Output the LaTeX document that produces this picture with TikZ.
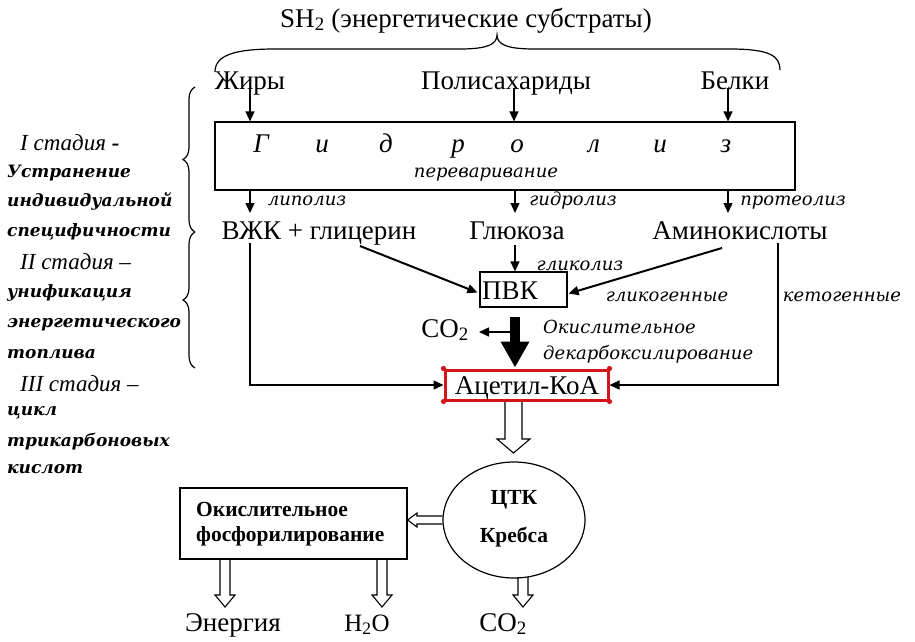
\documentclass[tikz,border=0pt]{standalone}
\usepackage{fontspec}
\setmainfont{Liberation Serif}
\newfontfamily\labfont{DejaVu Serif}
\usetikzlibrary{arrows.meta,decorations.pathreplacing,shapes.geometric,calc}
\newcommand\hollowv[6]{\draw[hollow] ({#1-#4},#2) -- ({#1-#4},{#3-#6}) -- ({#1-#5},{#3-#6}) -- (#1,#3) -- ({#1+#5},{#3-#6}) -- ({#1+#4},{#3-#6}) -- ({#1+#4},#2);}
\begin{document}
\begin{tikzpicture}[x=1pt,y=-1pt,
  main/.style={font=\fontsize{27}{31}\selectfont, inner sep=0pt, anchor=base},
  lab/.style={font=\labfont\itshape\fontsize{18}{22}\selectfont, inner sep=0pt, anchor=base},
  hl/.style={font=\itshape\fontsize{27}{31}\selectfont, inner sep=0pt, anchor=base},
  stg/.style={font=\labfont\bfseries\itshape\fontsize{17}{20}\selectfont, anchor=west, inner sep=0pt},
  stgn/.style={font=\itshape\fontsize{23}{26}\selectfont, anchor=west, inner sep=0pt},
  bld/.style={font=\bfseries\fontsize{21.5}{25}\selectfont, inner sep=0pt, anchor=base},
  arr/.style={-{Triangle[length=10pt,width=9pt]}, line width=1.3pt},
  thin/.style={line width=1.2pt},
  hollow/.style={line width=1.1pt},
  box/.style={draw, line width=1.2pt, inner sep=0pt}]
\useasboundingbox (0,0) rectangle (915,641);

% title and brace
\node[main] (sh) at (466,27) {SH\textsubscript{2} (энергетические субстраты)};
\draw[thin] (215,72) .. controls (215,55) and (235,49) .. (275,49) -- (460,49) .. controls (488,49) and (497,44) .. (497,35) .. controls (497,44) and (506,49) .. (534,49) -- (730,49) .. controls (770,49) and (780,56) .. (780,70);

% substrates
\node[main] (fat) at (250,89) {Жиры};
\node[main] (poly) at (506,89) {Полисахариды};
\node[main] (prot) at (735,89) {Белки};

% hydrolysis box
\node[box, minimum width=580pt, minimum height=68pt] (hyd) at (505,156) {};
\foreach \x/\t in {261/Г,322/и,386/д,458/р,517/о,594/л,660/и,726/з}
  \node[hl] at (\x,152) {\t};
\node[lab] (dig) at (486,177) {переваривание};

\coordinate (f0) at (250,88);
\coordinate (p0) at (514,88);
\coordinate (b0) at (728,88);
\draw[arr] (f0) -- (f0 |- hyd.north);
\draw[arr] (p0) -- (p0 |- hyd.north);
\draw[arr] (b0) -- (b0 |- hyd.north);

% second row
\node[main] (vzk) at (319,239) {ВЖК + глицерин};
\node[main] (glu) at (517,239) {Глюкоза};
\node[main] (ami) at (740,239) {Аминокислоты};
\coordinate (a1) at (250,213);
\coordinate (a2) at (515,213);
\coordinate (a3) at (728,213);
\draw[arr] (hyd.south -| a1) -- (a1);
\draw[arr] (hyd.south -| a2) -- (a2);
\draw[arr] (hyd.south -| a3) -- (a3);
\node[lab] at (307,205) {липолиз};
\node[lab] at (573,205) {гидролиз};
\node[lab] at (793,205) {протеолиз};

% PVK
\node[box, minimum width=87pt, minimum height=35pt] (pvk) at (523.5,289.5) {};
\node[main] at (510,299) {ПВК};
\node[lab] at (580,270) {гликолиз};
\node[lab] at (667,301) {гликогенные};
\node[lab] at (842,301) {кетогенные};

% acetyl-CoA
\definecolor{accred}{RGB}{212,22,26}
\node[draw=accred, line width=3pt, minimum width=163pt, minimum height=30pt, inner sep=0pt] (acc) at (526.5,385) {};
\node[main] at (527,394) {Ацетил-КоА};
\foreach \c in {north west,north east,south west,south east}
  \fill[accred] (acc.\c) circle (2.6pt);

\coordinate (vz1) at (250,243);
\coordinate (vz2) at (360,246);
\coordinate (am1) at (722,248);
\coordinate (am2) at (778,243);
\coordinate (g0) at (515,245);
\draw[arr] (vz1) -- (vz1 |- acc.west) -- (acc.west);
\draw[arr] (am2) -- (am2 |- acc.east) -- (acc.east);
\draw[arr, line width=2pt] (vz2) -- ($(pvk.west)+(-2,3)$);
\draw[arr, line width=2pt] (am1) -- ($(pvk.east)+(1,4)$);
\draw[arr] (g0) -- (g0 |- pvk.north);

% decarboxylation
\coordinate (ts) at (515,317);
\draw[line width=10pt, -{Triangle[length=26pt 0 0,width=27pt 0 0]}] (ts) -- ($(acc.north -| ts)+(0,-1)$);
\node[main] (co2a) at (445,337) {CO\textsubscript{2}};
\coordinate (ctap) at (511,332);
\coordinate (cend) at (479,332);
\draw[arr, line width=1.6pt] (ctap) -- (cend);
\node[lab, anchor=base west] at (543,333) {Окислительное};
\node[lab, anchor=base west] at (543,359) {декарбоксилирование};

% TCA
\node[draw, ellipse, line width=1.2pt, minimum width=142pt, minimum height=116pt, inner sep=0pt] (tca) at (514,520) {};
\node[bld] at (514,504) {ЦТК};
\node[bld] at (514,542) {Кребса};
\hollowv{513.5}{401.5}{453}{8.5}{16.5}{14}

% oxidative phosphorylation
\node[box, minimum width=227pt, minimum height=71pt] (oxp) at (293.5,523.5) {};
\node[bld, anchor=base west] at (196,516) {Окислительное};
\node[bld, anchor=base west] at (196,541) {фосфорилирование};
\draw[hollow] (tca.west) ++(0,-4) -- (417,516) -- (417,513) -- (oxp.east |- tca.west) -- (417,527) -- (417,524) -- ($(tca.west)+(0,4)$);

\hollowv{225}{559}{607}{5}{10}{12}
\hollowv{382}{559}{607}{5}{10}{12}
\hollowv{523}{577}{607}{5}{10}{12}

\node[main] at (233,631) {Энергия};
\node[main, font=\fontsize{25}{29}\selectfont] at (367,631) {H\textsubscript{2}O};
\node[main] at (503,631) {CO\textsubscript{2}};

% left column
\draw[thin, decorate, decoration={brace, amplitude=12pt, aspect=0.5}] (195,232) -- (195,87);
\draw[thin, decorate, decoration={brace, amplitude=12pt, aspect=0.5}] (195,368) -- (195,232);
\node[stgn] at (20,143) {I стадия \textbf{-}};
\node[stg] at (7,173) {Устранение};
\node[stg] at (7,201) {индивидуальной};
\node[stg] at (7,232) {специфичности};
\node[stgn] at (20,262) {II стадия –};
\node[stg] at (7,293) {унификация};
\node[stg] at (7,325) {энергетического};
\node[stg] at (7,354) {топлива};
\node[stgn] at (20,384) {III стадия –};
\node[stg] at (7,413) {цикл};
\node[stg] at (7,442) {трикарбоновых};
\node[stg] at (7,469) {кислот};
\end{tikzpicture}
\end{document}
